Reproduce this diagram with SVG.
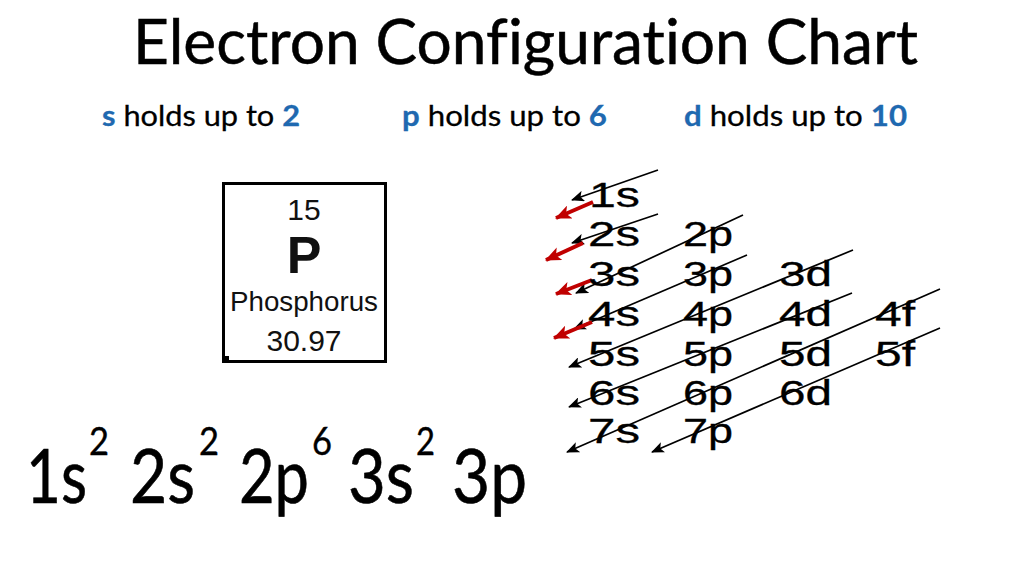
<svg xmlns="http://www.w3.org/2000/svg" width="1024" height="576" viewBox="0 0 1024 576">
<defs>
<marker id="ah" markerUnits="userSpaceOnUse" markerWidth="13" markerHeight="11" refX="12" refY="5.5" orient="auto">
<path d="M0,0 L13,5.5 L0,11 L3,5.5 z" fill="#000"/>
</marker>
<marker id="ahr" markerUnits="userSpaceOnUse" markerWidth="16" markerHeight="14" refX="15" refY="7" orient="auto">
<path d="M0,0 L16,7 L0,14 L4,7 z" fill="#c00000"/>
</marker>
</defs>
<style>
text{font-variant-ligatures:none}
.title{font-family:Lato,"Open Sans",sans-serif;font-size:61px;fill:#000;stroke:#000;stroke-width:0.5}
.sub{font-family:Lato,"Open Sans",sans-serif;font-size:29px;fill:#000;stroke:#000;stroke-width:0.3}
.b{font-weight:bold;fill:#1f69b0;stroke:#1f69b0}
.el{font-family:"Liberation Sans",Arial,sans-serif;fill:#111;text-anchor:middle}
.orb{font-family:"Liberation Sans",Arial,sans-serif;font-size:35px;fill:#000;stroke:#000;stroke-width:0.3}
.cfg{font-family:Lato,"Open Sans",sans-serif;font-size:76px;fill:#000;stroke:#000;stroke-width:0.6}
.sup{font-family:Lato,"Open Sans",sans-serif;font-size:38px;fill:#000;stroke:#000;stroke-width:0.4}
.ln{stroke:#000;stroke-width:1.7;fill:none;marker-end:url(#ah)}
.rd{stroke:#c00000;stroke-width:4;fill:none;marker-end:url(#ahr)}
</style>
<rect width="1024" height="576" fill="#fff"/>
<text class="title" x="133" y="64" textLength="785" lengthAdjust="spacingAndGlyphs">Electron Configuration Chart</text>
<g id="legend">
<text class="sub" x="102" y="126" textLength="198" lengthAdjust="spacingAndGlyphs"><tspan class="b">s</tspan> holds up to <tspan class="b">2</tspan></text>
<text class="sub" x="402" y="126" textLength="205" lengthAdjust="spacingAndGlyphs"><tspan class="b">p</tspan> holds up to <tspan class="b">6</tspan></text>
<text class="sub" x="684" y="126" textLength="223" lengthAdjust="spacingAndGlyphs"><tspan class="b">d</tspan> holds up to <tspan class="b">10</tspan></text>
</g>
<g id="element">
<rect x="223.5" y="183.5" width="162" height="178" fill="#fff" stroke="#000" stroke-width="3"/>
<rect x="223" y="356" width="6" height="6" fill="#000"/>
<text class="el" x="304" y="220" font-size="30">15</text>
<text class="el" x="304" y="273" font-size="52" font-weight="bold">P</text>
<text class="el" x="304" y="311" font-size="27" textLength="148" lengthAdjust="spacingAndGlyphs">Phosphorus</text>
<text class="el" x="304" y="351" font-size="30">30.97</text>
</g>
<g id="connectors">
<line class="ln" x1="658" y1="170" x2="572" y2="200"/>
<line class="ln" x1="658" y1="214" x2="572" y2="243"/>
<line class="ln" x1="743" y1="215" x2="576" y2="293"/>
<line class="ln" x1="747" y1="255" x2="574" y2="329"/>
<line class="ln" x1="853" y1="250" x2="569" y2="367"/>
<line class="ln" x1="852" y1="293" x2="569" y2="407"/>
<line class="ln" x1="940" y1="289" x2="567" y2="452"/>
<line class="ln" x1="940" y1="328" x2="652" y2="452"/>
<line class="rd" x1="593" y1="202" x2="556" y2="218"/>
<line class="rd" x1="583" y1="243" x2="546" y2="260"/>
<line class="rd" x1="592" y1="280" x2="556" y2="294"/>
<line class="rd" x1="592" y1="322" x2="554" y2="338"/>
</g>
<g id="orbitals">
<text class="orb" x="589" y="207" textLength="51" lengthAdjust="spacingAndGlyphs">1s</text>
<text class="orb" x="588" y="246" textLength="52" lengthAdjust="spacingAndGlyphs">2s</text>
<text class="orb" x="683" y="246" textLength="50" lengthAdjust="spacingAndGlyphs">2p</text>
<text class="orb" x="588" y="286" textLength="52" lengthAdjust="spacingAndGlyphs">3s</text>
<text class="orb" x="683" y="286" textLength="50" lengthAdjust="spacingAndGlyphs">3p</text>
<text class="orb" x="779" y="286" textLength="53" lengthAdjust="spacingAndGlyphs">3d</text>
<text class="orb" x="588" y="326" textLength="52" lengthAdjust="spacingAndGlyphs">4s</text>
<text class="orb" x="683" y="326" textLength="50" lengthAdjust="spacingAndGlyphs">4p</text>
<text class="orb" x="779" y="326" textLength="53" lengthAdjust="spacingAndGlyphs">4d</text>
<text class="orb" x="875" y="326" textLength="40" lengthAdjust="spacingAndGlyphs">4f</text>
<text class="orb" x="588" y="366" textLength="52" lengthAdjust="spacingAndGlyphs">5s</text>
<text class="orb" x="683" y="366" textLength="50" lengthAdjust="spacingAndGlyphs">5p</text>
<text class="orb" x="779" y="366" textLength="53" lengthAdjust="spacingAndGlyphs">5d</text>
<text class="orb" x="875" y="366" textLength="40" lengthAdjust="spacingAndGlyphs">5f</text>
<text class="orb" x="588" y="405" textLength="52" lengthAdjust="spacingAndGlyphs">6s</text>
<text class="orb" x="683" y="405" textLength="50" lengthAdjust="spacingAndGlyphs">6p</text>
<text class="orb" x="779" y="405" textLength="53" lengthAdjust="spacingAndGlyphs">6d</text>
<text class="orb" x="588" y="443" textLength="52" lengthAdjust="spacingAndGlyphs">7s</text>
<text class="orb" x="683" y="443" textLength="50" lengthAdjust="spacingAndGlyphs">7p</text>
</g>
<g id="configuration">
<text class="cfg" x="26" y="503" textLength="61" lengthAdjust="spacingAndGlyphs">1s</text>
<text class="sup" x="89" y="455" textLength="20" lengthAdjust="spacingAndGlyphs">2</text>
<text class="cfg" x="130" y="503" textLength="65" lengthAdjust="spacingAndGlyphs">2s</text>
<text class="sup" x="199" y="455" textLength="20" lengthAdjust="spacingAndGlyphs">2</text>
<text class="cfg" x="239" y="503" textLength="70" lengthAdjust="spacingAndGlyphs">2p</text>
<text class="sup" x="312" y="455" textLength="20" lengthAdjust="spacingAndGlyphs">6</text>
<text class="cfg" x="348" y="503" textLength="66" lengthAdjust="spacingAndGlyphs">3s</text>
<text class="sup" x="416" y="455" textLength="19" lengthAdjust="spacingAndGlyphs">2</text>
<text class="cfg" x="452" y="503" textLength="75" lengthAdjust="spacingAndGlyphs">3p</text>
</g>
</svg>
